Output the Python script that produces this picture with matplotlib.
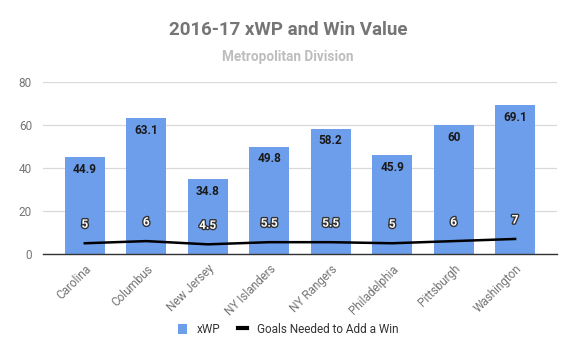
import matplotlib

matplotlib.use("Agg")
import matplotlib.patheffects as pe
import matplotlib.pyplot as plt
import numpy as np
from matplotlib.lines import Line2D
from matplotlib.patches import Patch

teams = ["Carolina", "Columbus", "New Jersey", "NY Islanders", "NY Rangers",
         "Philadelphia", "Pittsburgh", "Washington"]
xwp = [44.9, 63.1, 34.8, 49.8, 58.2, 45.9, 60, 69.1]
goals_per_win = [5, 6, 4.5, 5.5, 5.5, 5, 6, 7]
yticks = [0, 20, 40, 60, 80]

plt.rcParams["font.family"] = ["Roboto", "DejaVu Sans"]

fig = plt.figure(figsize=(5.75, 3.56), dpi=100)
ax = fig.add_axes([0.0748, 0.2865, 0.8937, 0.4832])

x = np.arange(len(teams))
ax.bar(x, xwp, width=0.65, color="#6d9eeb", zorder=2)
ax.plot(x, goals_per_win, color="black", linewidth=1.8, zorder=3)

for xi, v in zip(x, xwp):
    ax.annotate(f"{v:g}", (xi, v), xytext=(0, -4), textcoords="offset points",
                ha="center", va="top", fontsize=8.5, fontweight="bold",
                color="#1a1a1a", zorder=4)

for xi, v in zip(x, goals_per_win):
    ax.annotate(f"{v:g}", (xi, v), xytext=(0, 9), textcoords="offset points",
                ha="center", va="bottom", fontsize=8.5, fontweight="bold",
                color="white", zorder=4,
                path_effects=[pe.withStroke(linewidth=2, foreground="#333333")])

ax.set_ylim(0, 80)
ax.set_xlim(-0.68, len(teams) - 0.32)
ax.set_yticks(yticks)
ax.set_xticks(x)
ax.set_xticklabels(teams, rotation=45, ha="right", rotation_mode="anchor")
ax.tick_params(axis="both", length=0, labelsize=8.5, colors="#757575")
ax.tick_params(axis="x", pad=6)
ax.tick_params(axis="y", pad=8)
ax.grid(axis="y", color="#d9d9d9", linewidth=0.9, zorder=0)
for side in ["top", "right", "left"]:
    ax.spines[side].set_visible(False)
ax.spines["bottom"].set_color("#333333")
ax.spines["bottom"].set_linewidth(1)
ax.spines["bottom"].set_zorder(5)

fig.text(0.501, 0.916, "2016-17 xWP and Win Value", ha="center", va="center",
         fontsize=13.5, fontweight="bold", color="#757575")
fig.text(0.501, 0.84, "Metropolitan Division", ha="center", va="center",
         fontsize=9.8, fontweight="bold", color="#bdbdbd")

handles = [Patch(facecolor="#6d9eeb", edgecolor="none"),
           Line2D([0], [0], color="black", linewidth=3)]
fig.legend(handles, ["xWP", "Goals Needed to Add a Win"], loc="center",
           bbox_to_anchor=(0.501, 0.075), ncol=2, frameon=False, fontsize=8.5,
           handlelength=0.8, handleheight=0.9, columnspacing=1.5,
           handletextpad=0.8, labelcolor="#333333")

fig.savefig("out.png", dpi=100)
